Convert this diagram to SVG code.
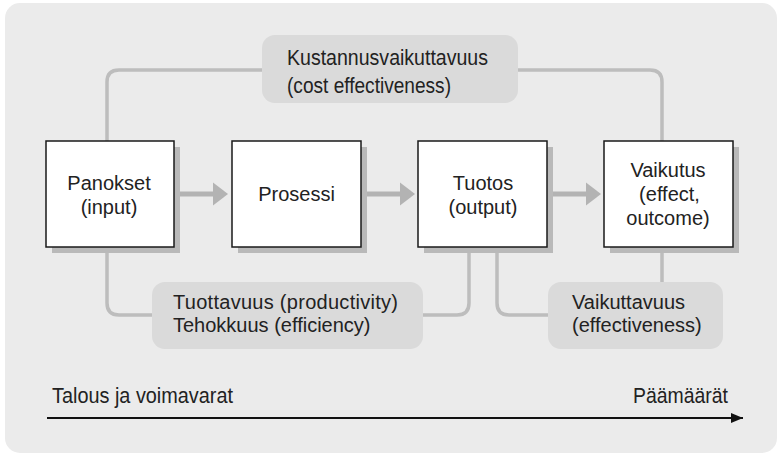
<svg xmlns="http://www.w3.org/2000/svg" width="779" height="455" viewBox="0 0 779 455">
  <defs>
    <style>
      .panel { fill: #ebebeb; }
      .box { fill: #ffffff; stroke: #1a1a1a; stroke-width: 1.5; }
      .shadow { fill: #b9b9b9; }
      .label { fill: #dadada; }
      .link { fill: none; stroke: #bdbdbd; stroke-width: 3.5; }
      .flow { fill: none; stroke: #b3b3b3; stroke-width: 5; }
      .head { fill: #b3b3b3; }
      text { font-family: "Liberation Sans", Arial, sans-serif; font-size: 20px; fill: #222222; }
      .mid { text-anchor: middle; }
      .narrow { font-size: 22px; }
    </style>
    <marker id="axisHead" markerWidth="12" markerHeight="10" refX="12" refY="5" orient="auto" markerUnits="userSpaceOnUse">
      <path d="M0,0 L12,5 L0,10 Z" fill="#111111"/>
    </marker>
  </defs>

  <!-- panel -->
  <rect class="panel" x="5" y="3" width="772" height="450" rx="15"/>

  <!-- connectors -->
  <g id="connectors">
    <!-- cost effectiveness bracket -->
    <path class="link" d="M107,141 V82 Q107,70 119,70 H262"/>
    <path class="link" d="M518,70 H650 Q662,70 662,82 V141"/>
    <!-- productivity bracket -->
    <path class="link" d="M107,247 V303 Q107,315 119,315 H152"/>
    <path class="link" d="M423,315 H457 Q469,315 469,303 V247"/>
    <!-- effectiveness bracket -->
    <path class="link" d="M497,247 V303 Q497,315 509,315 H548"/>
    <path class="link" d="M662,247 V282"/>
    <!-- process flow arrows -->
    <path class="flow" d="M174,194 H214"/>
    <path class="head" d="M213,182.5 L228,194 L213,205.5 Z"/>
    <path class="flow" d="M361,194 H401"/>
    <path class="head" d="M400,182.5 L415,194 L400,205.5 Z"/>
    <path class="flow" d="M547,194 H587"/>
    <path class="head" d="M586,182.5 L601,194 L586,205.5 Z"/>
  </g>

  <!-- nodes -->
  <g id="panokset">
    <rect class="shadow" x="52" y="147" width="128" height="106"/>
    <rect class="box" x="46" y="141" width="128" height="106"/>
    <text class="mid" x="109" y="190">Panokset</text>
    <text class="mid" x="109" y="214">(input)</text>
  </g>

  <g id="prosessi">
    <rect class="shadow" x="238" y="147" width="129" height="106"/>
    <rect class="box" x="232" y="141" width="129" height="106"/>
    <text class="mid" x="296.5" y="201">Prosessi</text>
  </g>

  <g id="tuotos">
    <rect class="shadow" x="424" y="147" width="129" height="106"/>
    <rect class="box" x="418" y="141" width="129" height="106"/>
    <text class="mid" x="483" y="190">Tuotos</text>
    <text class="mid" x="483" y="214">(output)</text>
  </g>

  <g id="vaikutus">
    <rect class="shadow" x="610" y="147" width="129" height="106"/>
    <rect class="box" x="604" y="141" width="129" height="106"/>
    <text class="mid" x="668" y="177">Vaikutus</text>
    <text class="mid" x="669.5" y="201">(effect,</text>
    <text class="mid" x="668" y="225">outcome)</text>
  </g>

  <g id="kustannusvaikuttavuus">
    <rect class="label" x="262" y="35" width="256" height="68" rx="13"/>
    <text class="narrow" x="287" y="65" textLength="201" lengthAdjust="spacingAndGlyphs">Kustannusvaikuttavuus</text>
    <text class="narrow" x="287" y="93" textLength="164" lengthAdjust="spacingAndGlyphs">(cost effectiveness)</text>
  </g>

  <g id="tuottavuus">
    <rect class="label" x="152" y="282" width="271" height="67" rx="13"/>
    <text x="173" y="309" textLength="225" lengthAdjust="spacing">Tuottavuus (productivity)</text>
    <text x="173" y="332">Tehokkuus (efficiency)</text>
  </g>

  <g id="vaikuttavuus">
    <rect class="label" x="548" y="282" width="175" height="67" rx="13"/>
    <text x="572" y="309">Vaikuttavuus</text>
    <text x="572" y="332">(effectiveness)</text>
  </g>

  <!-- resources-to-goals axis -->
  <g id="axis">
    <line x1="47" y1="418" x2="743" y2="418" stroke="#111111" stroke-width="2" marker-end="url(#axisHead)"/>
    <text class="narrow" x="52" y="403" textLength="181" lengthAdjust="spacingAndGlyphs">Talous ja voimavarat</text>
    <text class="narrow" x="633" y="403" textLength="95" lengthAdjust="spacingAndGlyphs">Päämäärät</text>
  </g>
</svg>
